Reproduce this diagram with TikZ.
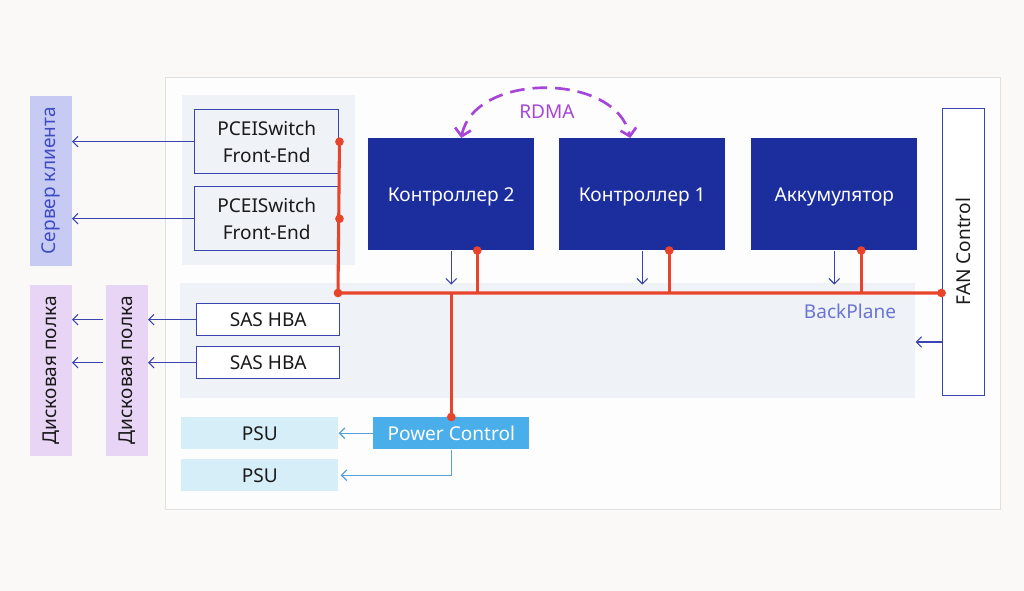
\documentclass[tikz,border=0pt]{standalone}
\usepackage{fontspec}
\setmainfont{Noto Sans}
\usetikzlibrary{arrows.meta}
\newlength\pxu \setlength\pxu{0.75pt}
\definecolor{bgc}{HTML}{FAF9F8}
\definecolor{framefill}{HTML}{FDFDFD}
\definecolor{frameline}{HTML}{E0E0E0}
\definecolor{groupbg}{HTML}{EFF2F7}
\definecolor{navy}{HTML}{1C2D9E}
\definecolor{boxline}{HTML}{3A45B0}
\definecolor{busred}{HTML}{E8432B}
\definecolor{rdmac}{HTML}{A646D9}
\definecolor{lav}{HTML}{C7CBF4}
\definecolor{pinklav}{HTML}{E8D5F5}
\definecolor{psuc}{HTML}{D5EEF8}
\definecolor{pcc}{HTML}{49AEEA}
\definecolor{pwrline}{HTML}{5A9FD5}
\definecolor{bptext}{HTML}{6B75D3}
\definecolor{lavtext}{HTML}{3F4BC0}
\definecolor{txt}{HTML}{1A1A1A}
\begin{document}
\begin{tikzpicture}[x=0.75pt,y=-0.75pt,
  lbl/.style={font=\fontsize{14.3}{20}\selectfont},
  rbox/.style={rectangle, inner sep=0pt, anchor=north west, lbl, align=center},
  outline/.style={rbox, draw=boxline, line width=1.1pt, fill=white, text=txt},
  navybox/.style={rbox, fill=navy, text=white, text depth=-2pt},
  blarrow/.style={draw=boxline, line width=0.8pt, -{Straight Barb[length=4pt,width=8pt]}},
  pwarrow/.style={draw=pwrline, line width=1pt, -{Straight Barb[length=4pt,width=8pt]}},
  bus/.style={draw=busred, line width=2.3pt},
  dot/.style={fill=busred, circle, inner sep=0pt, minimum size=6.5pt},
  rdma/.style={draw=rdmac, line width=2pt, dash pattern=on 11pt off 6pt,
     {Straight Barb[length=5.5pt,width=12pt]}-{Straight Barb[length=5.5pt,width=12pt]}}
]
\fill[bgc] (0,0) rectangle (1024,591);
\useasboundingbox (0,0) rectangle (1024,591);

% frame and groups
\node[rbox, draw=frameline, line width=0.8pt, fill=framefill, minimum width=835\pxu, minimum height=432\pxu] (frame) at (165,77) {};
\node[rbox, fill=groupbg, minimum width=173\pxu, minimum height=170\pxu] (pcg) at (182,95) {};
\node[rbox, fill=groupbg, minimum width=735\pxu, minimum height=115\pxu] (bp) at (180,283) {};
\node[lbl, text=bptext] (bpl) at (850,311) {BackPlane};

% left side bars
\node[rbox, fill=lav, minimum width=170\pxu, minimum height=42\pxu, rotate=90, anchor=south west, text=lavtext] (client) at (72,266) {Сервер клиента};
\node[rbox, fill=pinklav, minimum width=171\pxu, minimum height=42\pxu, rotate=90, anchor=south west, text=txt] (d1) at (72,456) {Дисковая полка};
\node[rbox, fill=pinklav, minimum width=171\pxu, minimum height=42\pxu, rotate=90, anchor=south west, text=txt] (d2) at (148,456) {Дисковая полка};

% PCEI switches
\node[outline, fill=groupbg, minimum width=144\pxu, minimum height=64\pxu] (p1) at (194,109) {PCEISwitch\\Front-End};
\node[outline, fill=groupbg, minimum width=144\pxu, minimum height=64\pxu] (p2) at (194,186) {PCEISwitch\\Front-End};

% SAS HBA
\node[outline, minimum width=143\pxu, minimum height=32\pxu] (s1) at (196,303) {SAS HBA};
\node[outline, minimum width=143\pxu, minimum height=32\pxu] (s2) at (196,346) {SAS HBA};

% controllers
\node[navybox, minimum width=166\pxu, minimum height=112\pxu] (c2) at (368,138) {Контроллер 2};
\node[navybox, minimum width=166\pxu, minimum height=112\pxu] (c1) at (559,138) {Контроллер 1};
\node[navybox, minimum width=166\pxu, minimum height=112\pxu] (acc) at (751,138) {Аккумулятор};

% FAN
\node[rbox, draw=boxline, line width=1.1pt, fill=white, text=txt, minimum width=287\pxu, minimum height=42\pxu, rotate=90, anchor=south west] (fan) at (985,396) {FAN Control};

% PSU and power
\node[rbox, fill=psuc, text=txt, minimum width=157\pxu, minimum height=32\pxu] (psu1) at (181,417) {PSU};
\node[rbox, fill=psuc, text=txt, minimum width=157\pxu, minimum height=32\pxu] (psu2) at (181,459) {PSU};
\node[rbox, fill=pcc, text=white, minimum width=156\pxu, minimum height=32\pxu] (pc) at (373,417) {Power Control};

% blue arrows to client / shelves
\draw[blarrow] (p1.west) -- (p1.west -| client.south);
\draw[blarrow] (p2.west) -- (p2.west -| client.south);
\draw[blarrow] (s1.west) -- (s1.west -| d2.south);
\draw[blarrow] (s2.west) -- (s2.west -| d2.south);
\draw[blarrow] ([xshift=-2\pxu]s1.west -| d2.north) -- (s1.west -| d1.south);
\draw[blarrow] ([xshift=-2\pxu]s2.west -| d2.north) -- (s2.west -| d1.south);

% controller down arrows
\coordinate (busL) at (338,293);
\draw[blarrow] (c2.south) -- ++(0,34);
\draw[blarrow] (c1.south) -- ++(0,34);
\draw[blarrow] (acc.south) -- ++(0,34);

% red bus
\coordinate (busR) at (fan.north |- busL);
\draw[bus] (p1.east) -- (busL) -- (busR);
\draw[bus] ([xshift=26\pxu]c2.south) -- ([xshift=26\pxu]c2.south |- busL);
\draw[bus] ([xshift=27\pxu]c1.south) -- ([xshift=27\pxu]c1.south |- busL);
\draw[bus] ([xshift=27\pxu]acc.south) -- ([xshift=27\pxu]acc.south |- busL);
\draw[bus] (pc.north |- busL) -- (pc.north);
\foreach \p in {p1.east, p2.east, busL, busR, pc.north} \node[dot] at (\p) {};
\node[dot] at ([xshift=26\pxu]c2.south) {};
\node[dot] at ([xshift=27\pxu]c1.south) {};
\node[dot] at ([xshift=27\pxu]acc.south) {};

% fan arrow
\coordinate (fanp) at (943,342);
\draw[blarrow] (fanp) -- (fanp -| bp.east);

% power arrows
\draw[pwarrow] (pc.west) -- (pc.west -| psu1.east);
\draw[pwarrow] (pc.south) |- ([xshift=2\pxu]psu2.east);

% RDMA
\draw[rdma] ([xshift=10\pxu]c2.north) .. controls (474,72) and (616,72) .. ([xshift=-12\pxu]c1.north);
\node[lbl, text=rdmac] (rdmal) at (547,112) {RDMA};
\end{tikzpicture}
\end{document}
